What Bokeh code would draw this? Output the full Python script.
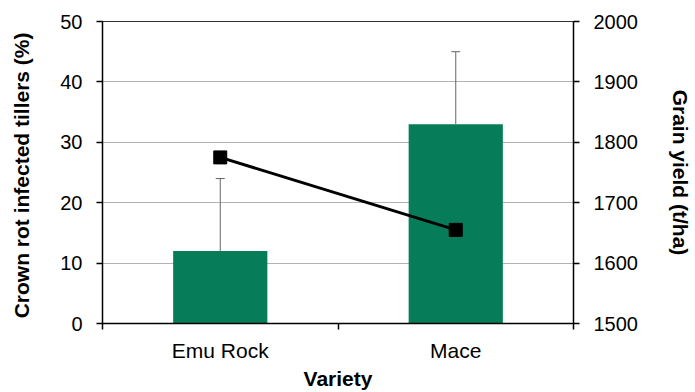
from bokeh.plotting import figure
from bokeh.models import (Range1d, LinearAxis, FixedTicker, Whisker, TeeHead,
                          ColumnDataSource)
from bokeh.embed import file_html
from bokeh.resources import INLINE

categories = ["Emu Rock", "Mace"]
infected_pct = [12, 33]
infected_err = [12, 12]
grain_yield = [1775, 1655]
left_ticks = [0, 10, 20, 30, 40, 50]
right_ticks = [1500, 1600, 1700, 1800, 1900, 2000]

FONT = "Liberation Sans"
GREEN = "#067c58"

xpos = [i + 0.5 for i in range(len(categories))]
bounds = [float(i) for i in range(len(categories) + 1)]

src = ColumnDataSource(dict(
    x=xpos,
    pct=infected_pct,
    top=[v + e for v, e in zip(infected_pct, infected_err)],
    yld=grain_yield,
))

p = figure(width=695, height=392, output_backend="svg", toolbar_location=None,
           x_range=Range1d(0, len(categories)), y_range=Range1d(0, 50),
           min_border_left=102, min_border_right=122, min_border_top=21,
           min_border_bottom=66)
p.extra_y_ranges = {"yield": Range1d(1500, 2000)}

p.outline_line_color = "#303030"
p.outline_line_width = 1
p.background_fill_color = "white"
p.border_fill_color = "white"

p.vbar(x="x", top="pct", bottom=0, width=0.4, source=src,
       fill_color=GREEN, line_color=None)

w = Whisker(base="x", lower="pct", upper="top", source=src,
            line_color="#666666", line_width=1,
            upper_head=TeeHead(size=9, line_color="#666666", line_width=1),
            lower_head=None)
p.add_layout(w)

p.line(x="x", y="yld", source=src, y_range_name="yield",
       line_color="black", line_width=3)
p.scatter(x="x", y="yld", source=src, y_range_name="yield", marker="square",
          size=13, fill_color="black", line_color="black")

# grid
p.xgrid.visible = False
p.ygrid.ticker = FixedTicker(ticks=left_ticks)
p.ygrid.grid_line_color = "#b3b3b3"
p.ygrid.grid_line_width = 1

# x axis
xa = p.xaxis[0]
xa.ticker = FixedTicker(ticks=xpos, minor_ticks=bounds)
xa.major_label_overrides = {x: c for x, c in zip(xpos, categories)}
xa.major_tick_out = 0
xa.major_tick_in = 0
xa.minor_tick_out = 6
xa.minor_tick_in = 0
xa.minor_tick_line_color = "black"
xa.minor_tick_line_width = 1.5
xa.axis_line_color = "black"
xa.axis_line_width = 1.5
xa.major_label_text_font = FONT
xa.major_label_text_font_size = "21px"
xa.major_label_text_color = "black"
xa.major_label_standoff = 9
xa.axis_label = "Variety"
xa.axis_label_text_font = FONT
xa.axis_label_text_font_size = "21px"
xa.axis_label_text_font_style = "bold"
xa.axis_label_text_color = "black"
xa.axis_label_standoff = 2

# left axis
ya = p.yaxis[0]
ya.ticker = FixedTicker(ticks=left_ticks)
ya.major_tick_out = 6
ya.major_tick_in = 0
ya.minor_tick_out = 0
ya.minor_tick_in = 0
ya.major_tick_line_color = "black"
ya.major_tick_line_width = 1.5
ya.axis_line_color = "black"
ya.axis_line_width = 1.5
ya.major_label_text_font = FONT
ya.major_label_text_font_size = "20px"
ya.major_label_text_color = "black"
ya.major_label_standoff = 14
ya.axis_label = "Crown  rot infected tillers (%)"
ya.axis_label_text_font = FONT
ya.axis_label_text_font_size = "21px"
ya.axis_label_text_font_style = "bold"
ya.axis_label_text_color = "black"
ya.axis_label_standoff = 24

# right axis
ra = LinearAxis(y_range_name="yield", ticker=FixedTicker(ticks=right_ticks))
ra.major_tick_out = 6
ra.major_tick_in = 0
ra.minor_tick_out = 0
ra.minor_tick_in = 0
ra.major_tick_line_color = "black"
ra.major_tick_line_width = 1.5
ra.axis_line_color = "black"
ra.axis_line_width = 1.5
ra.major_label_text_font = FONT
ra.major_label_text_font_size = "20px"
ra.major_label_text_color = "black"
ra.major_label_standoff = 14
ra.axis_label = "Grain yield (t/ha)"
ra.axis_label_text_font = FONT
ra.axis_label_text_font_size = "21px"
ra.axis_label_text_font_style = "bold"
ra.axis_label_text_color = "black"
ra.axis_label_standoff = 28
p.add_layout(ra, "right")

open("out.html", "w").write(file_html(p, INLINE))
